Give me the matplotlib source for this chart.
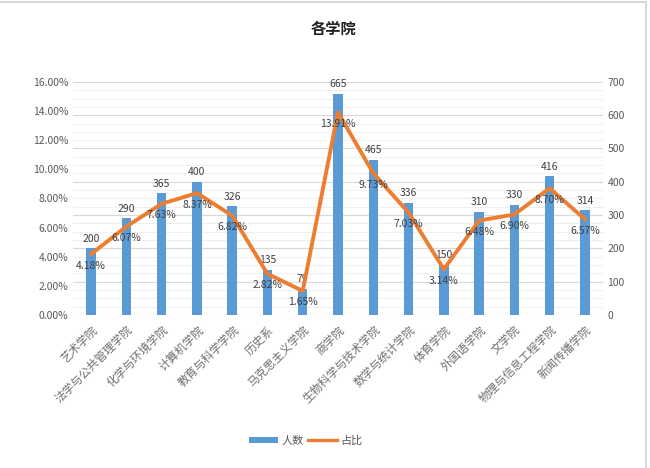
import numpy as np
import matplotlib
matplotlib.use('Agg')
import matplotlib.pyplot as plt
from matplotlib.patches import Patch
from matplotlib.lines import Line2D
from matplotlib.ticker import FuncFormatter, MultipleLocator

plt.rcParams['font.family'] = ['Noto Sans CJK SC', 'DejaVu Sans']

# 数据
colleges = ['艺术学院', '法学与公共管理学院', '化学与环境学院', '计算机学院', '教育与科学学院',
            '历史系', '马克思主义学院', '商学院', '生物科学与技术学院', '数学与统计学院',
            '体育学院', '外国语学院', '文学院', '物理与信息工程学院', '新闻传播学院']
counts = [200, 290, 365, 400, 326, 135, 79, 665, 465, 336, 150, 310, 330, 416, 314]
pct = [4.18, 6.07, 7.63, 8.37, 6.82, 2.82, 1.65, 13.91, 9.73, 7.03, 3.14, 6.48, 6.90, 8.70, 6.57]

bar_color = '#5B9BD5'
line_color = '#ED7D31'
text_color = '#404040'
tick_color = '#595959'

fig = plt.figure(figsize=(6.5, 4.68), dpi=100)
ax_bar = fig.add_axes([0.113, 0.327, 0.814, 0.498])
ax_pct = ax_bar.twinx()
x = np.arange(len(colleges))

# 柱状图 (右轴: 人数)
ax_bar.bar(x, counts, width=0.27, color=bar_color, zorder=2)
ax_bar.set_ylim(0, 700)
ax_bar.yaxis.set_major_locator(MultipleLocator(100))
ax_bar.yaxis.set_minor_locator(MultipleLocator(25))
ax_bar.grid(axis='y', which='major', color='#D9D9D9', linewidth=0.8, zorder=0)
ax_bar.grid(axis='y', which='minor', color='#EDEDED', linewidth=0.6, zorder=0)
ax_bar.set_axisbelow(True)
for xi, c in zip(x, counts):
    ax_bar.text(xi, c + 14, str(c), ha='center', va='bottom', fontsize=7.5,
                color=text_color, clip_on=False)

# 折线图 (左轴: 占比)
ax_pct.plot(x, pct, color=line_color, linewidth=2.8, solid_joinstyle='round', zorder=3)
ax_pct.set_ylim(0, 16)
ax_pct.yaxis.set_major_locator(MultipleLocator(2))
ax_pct.yaxis.set_major_formatter(FuncFormatter(lambda v, p: f'{v:.2f}%'))
for xi, p in zip(x, pct):
    ax_pct.text(xi, p - 0.45, f'{p:.2f}%', ha='center', va='top', fontsize=7.5,
                color=text_color)

# 轴位置互换: 左边百分比, 右边人数
ax_pct.yaxis.tick_left()
ax_pct.yaxis.set_label_position('left')
ax_bar.yaxis.tick_right()
ax_bar.yaxis.set_label_position('right')

ax_bar.set_xlim(-0.5, len(colleges) - 0.5)
ax_bar.set_xticks(x)
ax_bar.set_xticklabels(colleges, rotation=45, ha='right', rotation_mode='anchor',
                       fontsize=8.3, color='#6F6F6F')

for a in (ax_bar, ax_pct):
    for s in a.spines.values():
        s.set_visible(False)
    a.tick_params(axis='y', length=0, labelsize=7.5, labelcolor=tick_color)
ax_bar.tick_params(axis='x', length=0, pad=6)
ax_bar.tick_params(axis='y', which='minor', length=0)

fig.suptitle('各学院', x=0.513, y=0.955, fontsize=11, fontweight='bold', color='#222222')

handles = [Patch(facecolor=bar_color, edgecolor='none'),
           Line2D([0], [0], color=line_color, linewidth=2.4)]
fig.legend(handles, ['人数', '占比'], loc='center', bbox_to_anchor=(0.47, 0.058), ncol=2,
           frameon=False, fontsize=8, handlelength=2.6, handleheight=0.5,
           columnspacing=0.4, handletextpad=0.3, labelcolor=tick_color)

# 外框
fig.add_artist(Line2D([0, 0.994], [0.995, 0.995], transform=fig.transFigure,
                      color='#D0D0D0', linewidth=1.2))
fig.add_artist(Line2D([0.994, 0.994], [0, 0.995], transform=fig.transFigure,
                      color='#D0D0D0', linewidth=1.2))

fig.savefig('out.png', dpi=100)
